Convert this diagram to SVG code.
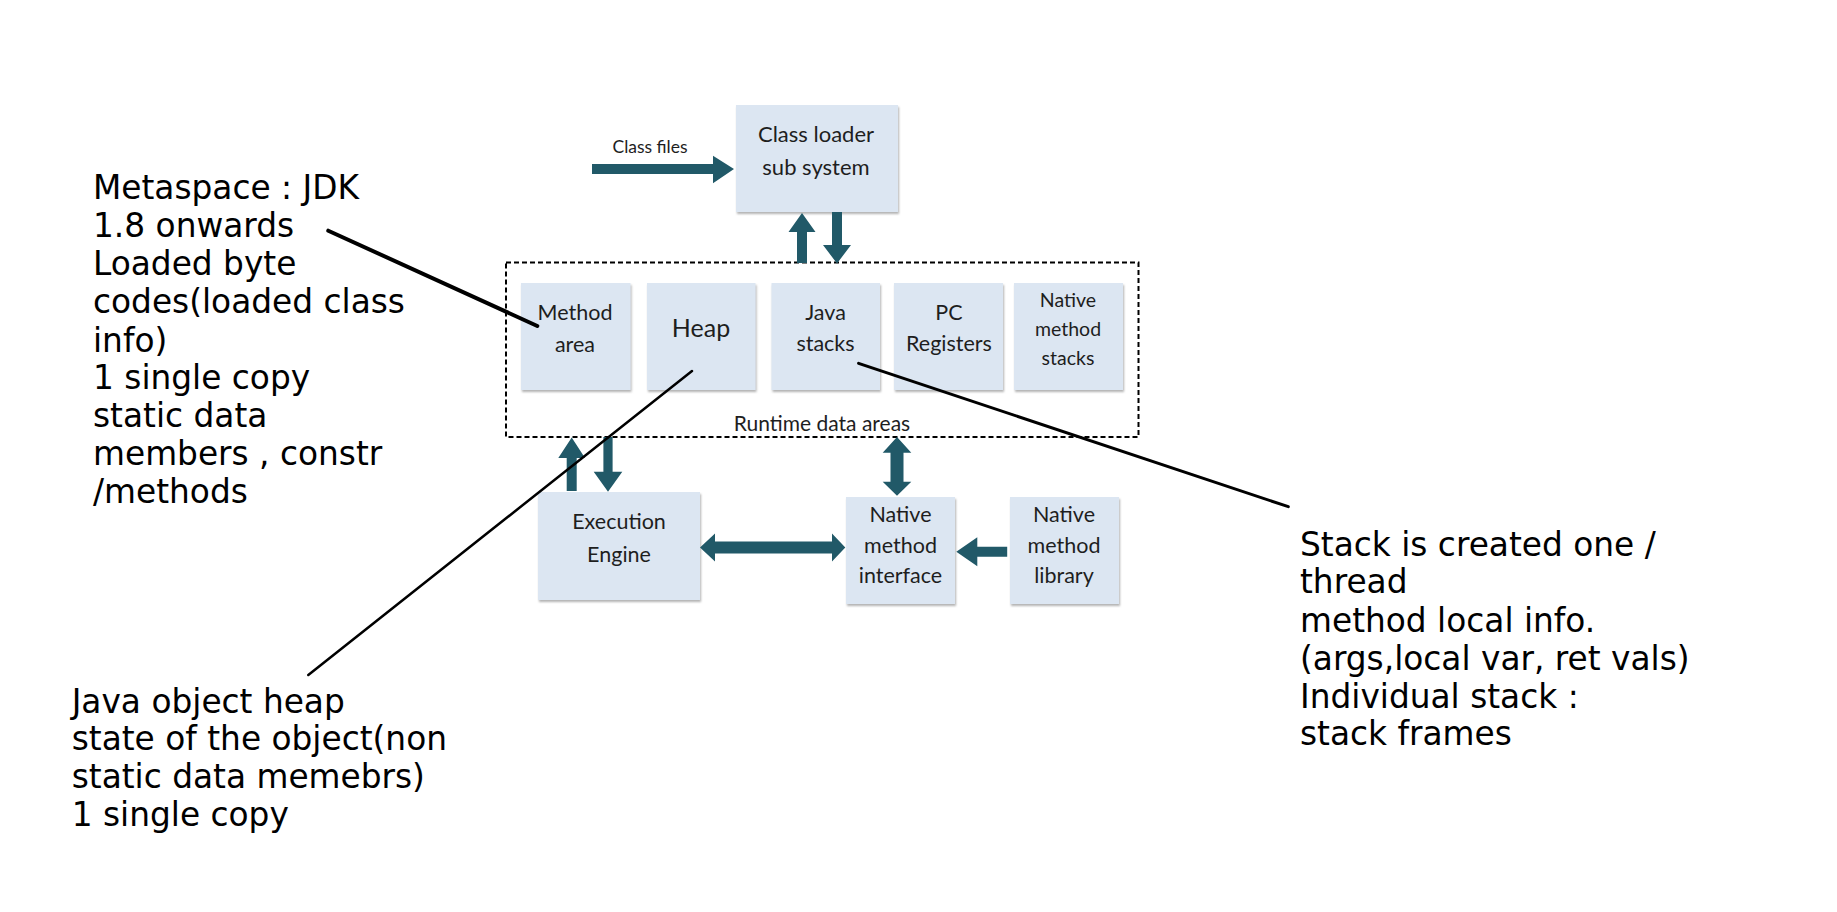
<svg xmlns="http://www.w3.org/2000/svg" width="1837" height="912" viewBox="0 0 1837 912">
<style>
.box{fill:#dce6f2;filter:url(#sh)}
.bt{font-family:Lato,"Open Sans",sans-serif;font-size:21.5px;fill:#1e1e1e;text-anchor:middle}
.note{font-family:"DejaVu Sans",Verdana,sans-serif;font-size:32.8px;fill:#000}
.arr{fill:#215968}
.ln{stroke:#000;fill:none;stroke-linecap:round}
</style>
<defs>
<filter id="sh" x="-10%" y="-10%" width="130%" height="130%">
<feDropShadow dx="1" dy="2" stdDeviation="1.2" flood-color="#808080" flood-opacity="0.6"/>
</filter>
</defs>
<rect width="1837" height="912" fill="#fff"/>

<g id="runtime-data-areas">
<rect x="506" y="262.5" width="632.5" height="174.5" fill="none" stroke="#000" stroke-width="2" stroke-dasharray="5,3"/>
<text class="bt" x="822" y="430.7" style="font-size:21px">Runtime data areas</text>
</g>

<g id="class-loader">
<rect class="box" x="736" y="105" width="162" height="107"/>
<text class="bt" x="816" y="141.7" style="font-size:22px">Class loader</text>
<text class="bt" x="816" y="175" style="font-size:22px">sub system</text>
</g>

<g id="method-area">
<rect class="box" x="521" y="283" width="109.5" height="107"/>
<text class="bt" x="575" y="320">Method</text>
<text class="bt" x="575" y="351.7">area</text>
</g>
<g id="heap">
<rect class="box" x="647" y="283" width="108.5" height="107"/>
<text class="bt" x="701" y="336.7" style="font-size:25px">Heap</text>
</g>
<g id="java-stacks">
<rect class="box" x="771.5" y="283" width="108.5" height="107"/>
<text class="bt" x="825.5" y="320">Java</text>
<text class="bt" x="825.5" y="351">stacks</text>
</g>
<g id="pc-registers">
<rect class="box" x="894" y="283" width="109" height="107"/>
<text class="bt" x="949" y="320">PC</text>
<text class="bt" x="949" y="351">Registers</text>
</g>
<g id="native-method-stacks">
<rect class="box" x="1014" y="283" width="109" height="107"/>
<text class="bt" x="1068" y="306.7" style="font-size:19.5px">Native</text>
<text class="bt" x="1068" y="336" style="font-size:19.5px">method</text>
<text class="bt" x="1068" y="365" style="font-size:19.5px">stacks</text>
</g>

<g id="execution-engine">
<rect class="box" x="538" y="492" width="162" height="108"/>
<text class="bt" x="619" y="529">Execution</text>
<text class="bt" x="619" y="562.3">Engine</text>
</g>
<g id="native-method-interface">
<rect class="box" x="846" y="497" width="109" height="107"/>
<text class="bt" x="900.5" y="521.7">Native</text>
<text class="bt" x="900.5" y="553.3">method</text>
<text class="bt" x="900.5" y="582.7">interface</text>
</g>
<g id="native-method-library">
<rect class="box" x="1010" y="497" width="109" height="107"/>
<text class="bt" x="1064" y="521.7">Native</text>
<text class="bt" x="1064" y="553.3">method</text>
<text class="bt" x="1064" y="582.7">library</text>
</g>

<g id="connectors">
<text x="650" y="153" style="font-family:Lato,'Open Sans',sans-serif;font-size:17.5px;fill:#1e1e1e;text-anchor:middle">Class files</text>
<polygon class="arr" points="592,164 713,164 713,155.7 734,169 713,183.3 713,174 592,174"/>
<polygon class="arr" points="802,213 815.5,232 807,232 807,263 797,263 797,232 788.5,232"/>
<polygon class="arr" points="832,212 842,212 842,245 851,245 837,263.5 823,245 832,245"/>
<polygon class="arr" points="571.7,437.5 585,458 576.7,458 576.7,491 566.7,491 566.7,458 558.3,458"/>
<polygon class="arr" points="603.4,437 612.6,437 612.6,471.7 622.3,471.7 608,491.7 593.7,471.7 603.4,471.7"/>
<polygon class="arr" points="897,437 911.3,452.7 903.5,452.7 903.5,481.7 911.3,481.7 897,495.7 882.7,481.7 890.5,481.7 890.5,452.7 882.7,452.7"/>
<polygon class="arr" points="700,547.5 715,533.5 715,541.5 832,541.5 832,533.5 845.3,547.5 832,561.5 832,553.5 715,553.5 715,561.5"/>
<polygon class="arr" points="956.3,551.7 977.3,537.2 977.3,546.7 1007.2,546.7 1007.2,556.7 977.3,556.7 977.3,566.2"/>
<line class="ln" x1="328.3" y1="230.7" x2="537.3" y2="326" stroke-width="4"/>
<line class="ln" x1="308.3" y1="675" x2="692" y2="371" stroke-width="2.5"/>
<line class="ln" x1="858.6" y1="363.3" x2="1288.3" y2="506.7" stroke-width="3"/>
</g>

<g id="note-metaspace">
<text class="note" x="93" y="199.3">Metaspace : JDK</text>
<text class="note" x="93" y="236.7">1.8 onwards</text>
<text class="note" x="93" y="275">Loaded byte</text>
<text class="note" x="93" y="313.3">codes(loaded class</text>
<text class="note" x="93" y="351.7">info)</text>
<text class="note" x="93" y="389.3">1 single copy</text>
<text class="note" x="93" y="426.7">static data</text>
<text class="note" x="93" y="465">members , constr</text>
<text class="note" x="93" y="503.3">/methods</text>
</g>
<g id="note-heap">
<text class="note" x="71.7" y="712.7">Java object heap</text>
<text class="note" x="71.7" y="750">state of the object(non</text>
<text class="note" x="71.7" y="788.3">static data memebrs)</text>
<text class="note" x="71.7" y="826">1 single copy</text>
</g>
<g id="note-stack">
<text class="note" x="1300" y="555.7">Stack is created one /</text>
<text class="note" x="1300" y="593.3">thread</text>
<text class="note" x="1300" y="631.7">method local info.</text>
<text class="note" x="1300" y="670">(args,local var, ret vals)</text>
<text class="note" x="1300" y="708.3">Individual stack :</text>
<text class="note" x="1300" y="745">stack frames</text>
</g>
</svg>
